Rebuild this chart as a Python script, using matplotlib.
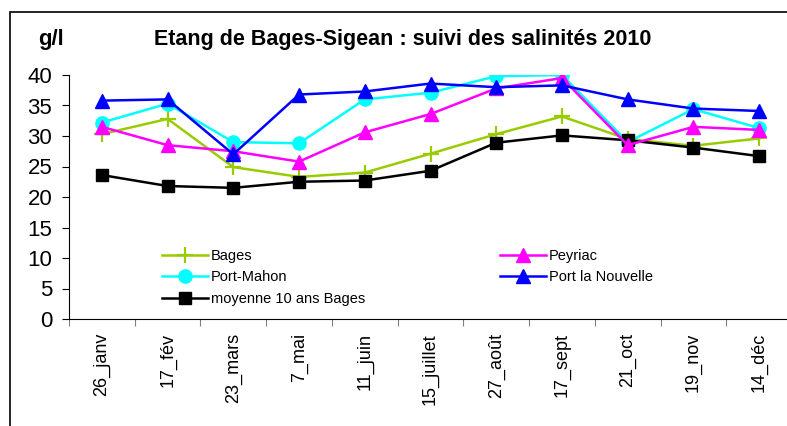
import matplotlib.pyplot as plt
import matplotlib.patches as mpatches
import numpy as np

plt.rcParams["font.family"] = ["Liberation Sans", "DejaVu Sans"]

dates = ["26_janv", "17_fév", "23_mars", "7_mai", "11_juin", "15_juillet",
         "27_août", "17_sept", "21_oct", "19_nov", "14_déc"]

bages = [30.3, 32.8, 24.9, 23.3, 24.0, 27.1, 30.3, 33.2, 29.5, 28.4, 29.6]
peyriac = [31.5, 28.5, 27.5, 25.8, 30.6, 33.6, 37.8, 39.5, 28.5, 31.5, 31.0]
port_mahon = [32.2, 35.3, 29.0, 28.8, 36.0, 37.1, 39.8, 40.0, 29.0, 34.4, 31.3]
port_nouvelle = [35.8, 36.0, 27.0, 36.8, 37.3, 38.6, 38.0, 38.3, 36.0, 34.5, 34.1]
moyenne = [23.6, 21.8, 21.5, 22.5, 22.7, 24.3, 28.9, 30.1, 29.3, 28.1, 26.7]

fig = plt.figure(figsize=(7.87, 4.26), dpi=100)
ax = fig.add_axes([69 / 787, 1 - 319 / 426, (792 - 69) / 787, (319 - 75) / 426])

# outer chart frame
fig.patches.append(mpatches.Rectangle((10 / 787, -0.1), 1.0, 1 - 12 / 426 + 0.1,
                                      transform=fig.transFigure, fill=False,
                                      edgecolor="black", linewidth=1.2))

x = np.arange(len(dates))
lw = 1.8
ax.plot(x, bages, color="#99cc00", marker="+", markersize=11, markeredgewidth=1.6,
        linewidth=lw, label="Bages")
ax.plot(x, port_mahon, color="#00ffff", marker="o", markersize=9.5,
        linewidth=lw, label="Port-Mahon")
ax.plot(x, moyenne, color="black", marker="s", markersize=9,
        linewidth=lw, label="moyenne 10 ans Bages")
ax.plot(x, peyriac, color="#ff00ff", marker="^", markersize=9.5,
        linewidth=lw, label="Peyriac")
ax.plot(x, port_nouvelle, color="#0000ff", marker="^", markersize=9.5,
        linewidth=lw, label="Port la Nouvelle")

ax.set_xlim(-0.5, len(dates) - 0.5)
ax.set_ylim(0, 40)
ax.set_yticks(np.arange(0, 41, 5))
ax.tick_params(axis="y", labelsize=16, length=5, direction="out", pad=7)

ax.set_xticks(np.arange(-0.5, len(dates), 1))
ax.set_xticklabels([])
ax.tick_params(axis="x", which="major", length=5, direction="out", color="#808080")
ax.set_xticks(x, minor=True)
ax.set_xticklabels(dates, minor=True, rotation=90, fontsize=13)
ax.tick_params(axis="x", which="minor", length=0, pad=10)

ax.spines["top"].set_visible(False)
ax.spines["right"].set_visible(False)

ax.legend(loc="upper left", bbox_to_anchor=(0.12, 0.31), ncol=2, frameon=False,
          fontsize=10.5, handlelength=3.2, handletextpad=0.2, columnspacing=9.2,
          labelspacing=0.5, borderaxespad=0)

fig.text(51 / 787, 1 - 40 / 426, "g/l", fontsize=16, fontweight="bold",
         ha="center", va="center")
fig.text(403 / 787, 1 - 40 / 426, "Etang de Bages-Sigean : suivi des salinités 2010",
         fontsize=15.5, fontweight="bold", ha="center", va="center")

fig.savefig("out.png", dpi=100)
